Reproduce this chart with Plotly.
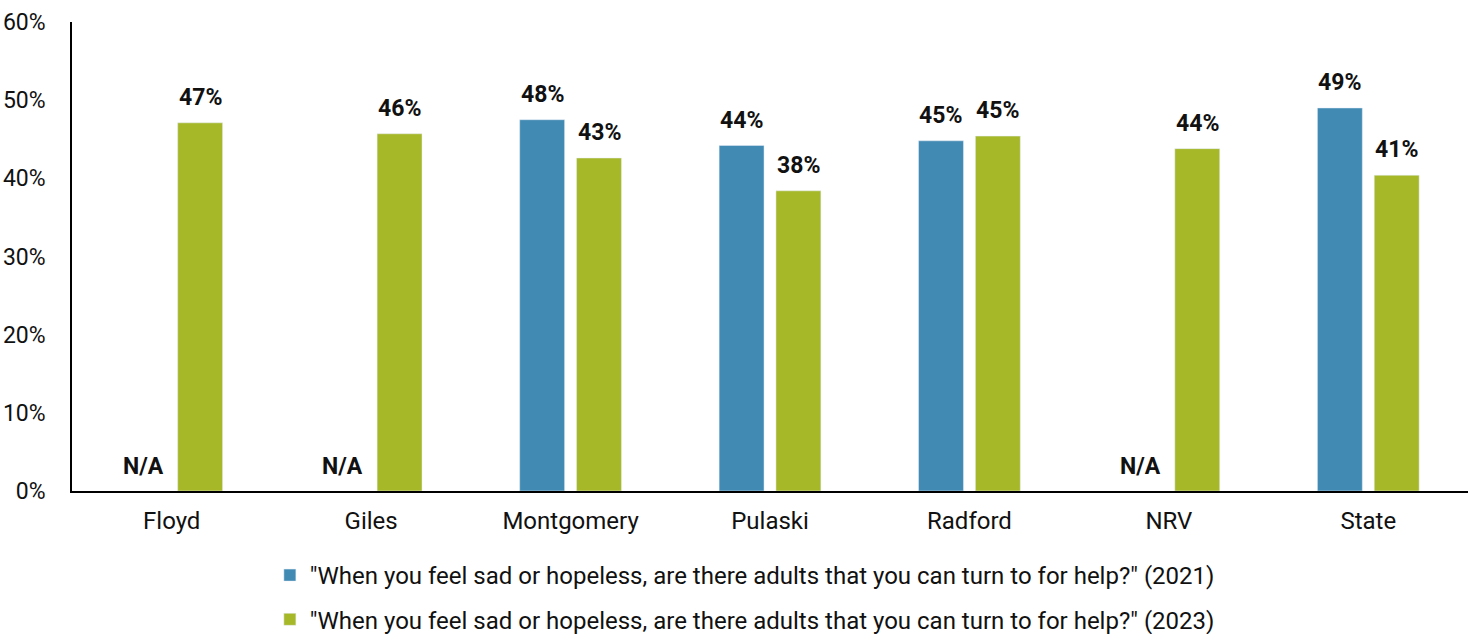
import plotly.graph_objects as go

categories = ["Floyd", "Giles", "Montgomery", "Pulaski", "Radford", "NRV", "State"]
vals_2021 = [None, None, 47.5, 44.2, 44.8, None, 49.0]
vals_2023 = [47.1, 45.7, 42.6, 38.4, 45.4, 43.8, 40.4]
labels_2021 = ["N/A", "N/A", "48%", "44%", "45%", "N/A", "49%"]
labels_2023 = ["47%", "46%", "43%", "38%", "45%", "44%", "41%"]
name_2021 = '"When you feel sad or hopeless, are there adults that you can turn to for help?" (2021)'
name_2023 = '"When you feel sad or hopeless, are there adults that you can turn to for help?" (2023)'
yticks = [0, 10, 20, 30, 40, 50, 60]
ytick_text = ["0%", "10%", "20%", "30%", "40%", "50%", "60%"]

blue = "#418AB3"
green = "#A6B828"
FONT = "Roboto"

fig = go.Figure()
fig.add_trace(go.Bar(x=categories, y=vals_2021, name=name_2021, marker_color=blue,
                     legendgroup="a"))
fig.add_trace(go.Bar(x=categories, y=vals_2023, name=name_2023, marker_color=green,
                     legendgroup="b"))

annotations = []
lab_font = dict(size=23, color="#111", family=FONT)
for i, c in enumerate(categories):
    v1 = vals_2021[i]
    annotations.append(dict(x=c, y=v1 if v1 is not None else 0, xref="x", yref="y",
                            text="<b>%s</b>" % labels_2021[i], showarrow=False,
                            xshift=-28.5, yshift=10 if v1 is not None else 9,
                            yanchor="bottom", font=lab_font))
    v2 = vals_2023[i]
    annotations.append(dict(x=c, y=v2, xref="x", yref="y",
                            text="<b>%s</b>" % labels_2023[i], showarrow=False,
                            xshift=28.5, yshift=10, yanchor="bottom", font=lab_font))

fig.update_layout(
    width=1476, height=634,
    margin=dict(l=72, r=8, t=22, b=143),
    plot_bgcolor="white", paper_bgcolor="white",
    barmode="group", bargap=0.43, bargroupgap=0.21,
    font=dict(family=FONT, size=23, color="#111"),
    showlegend=True,
    legend=dict(orientation="v", x=0.482, xanchor="center", xref="paper",
                y=(634 - 553) / 634, yanchor="top", yref="container",
                traceorder="grouped", tracegroupgap=10,
                font=dict(size=24, family=FONT, color="#111")),
    annotations=annotations,
)
fig.update_xaxes(showline=True, linecolor="#000", linewidth=1.5, ticks="",
                 ticklabelstandoff=7, automargin=False,
                 tickfont=dict(size=24, family=FONT, color="#111"))
fig.update_yaxes(range=[0, 60], tickvals=yticks, ticktext=ytick_text, showgrid=False,
                 zeroline=False, showline=True, linecolor="#000", linewidth=1.5, ticks="",
                 ticklabelstandoff=20, automargin=False,
                 tickfont=dict(size=23, family=FONT, color="#111"))

fig.write_html("out.html")
